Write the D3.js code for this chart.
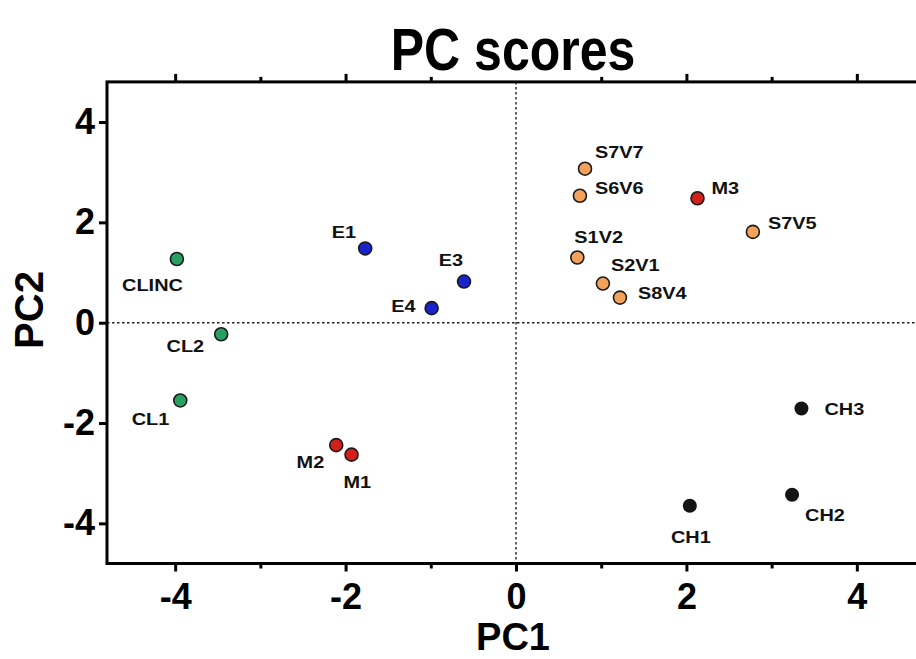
<!DOCTYPE html>
<html>
<head>
<meta charset="utf-8">
<script src="https://cdn.jsdelivr.net/npm/d3@7"></script>
<style>
  html, body { margin: 0; padding: 0; background: #fff; }
  svg { display: block; font-family: "Liberation Sans", Arial, sans-serif; }
</style>
</head>
<body>
<svg id="chart" width="916" height="659"></svg>
<script>
// PCA sample scores
const sampleNames = ["CLINC", "CL2", "CL1", "E1", "E3", "E4", "M2", "M1", "M3",
  "S7V7", "S6V6", "S7V5", "S1V2", "S2V1", "S8V4", "CH3", "CH2", "CH1"];
const groups = ["CL", "CL", "CL", "E", "E", "E", "M", "M", "M",
  "S", "S", "S", "S", "S", "S", "CH", "CH", "CH"];
const pc1 = [-3.98, -3.46, -3.94, -1.77, -0.61, -0.99, -2.11, -1.93, 2.13,
  0.81, 0.75, 2.78, 0.72, 1.02, 1.22, 3.35, 3.24, 2.04];
const pc2 = [1.27, -0.23, -1.55, 1.48, 0.82, 0.29, -2.44, -2.63, 2.48,
  3.07, 2.53, 1.81, 1.30, 0.78, 0.50, -1.71, -3.43, -3.65];
const tickValues = [-4, -3, -2, -1, 0, 1, 2, 3, 4];
const yTickValues = [-4, -2, 0, 2, 4];

const groupColors = {
  CL: "#28a062", E: "#1a22cc", M: "#d2201a", S: "#f2a25a", CH: "#141414"
};

// label placement around each marker: anchor, dx, dy (px)
const labelPlacement = {
  CLINC: ["end", 6, 26], CL2: ["end", -17, 12], CL1: ["end", -11, 19],
  E1: ["end", -9, -16], E3: ["end", -1, -22], E4: ["end", -16, -2],
  M2: ["end", -12, 17], M1: ["start", -8, 27], M3: ["start", 14, -10],
  S7V7: ["start", 10, -17], S6V6: ["start", 15, -8], S7V5: ["start", 15, -9],
  S1V2: ["start", -3, -20], S2V1: ["start", 8, -19], S8V4: ["start", 18, -5],
  CH3: ["start", 23, 1], CH2: ["start", 13, 20], CH1: ["middle", 1, 31]
};

const svg = d3.select("#chart");
const x = d3.scaleLinear().domain([-4.8, 4.8]).range([107, 925]);
const y = d3.scaleLinear().domain([-4.8, 4.8]).range([563.5, 81.9]);
const [x0, x1] = x.range();
const [y1, y0] = y.range();

// title
svg.append("text")
  .attr("transform", "translate(513,70) scale(1,1.2)")
  .attr("text-anchor", "middle")
  .attr("font-size", 50).attr("font-weight", "bold")
  .text("PC scores");

// zero reference lines
const ref = svg.append("g").attr("stroke", "#222").attr("stroke-width", 1.4)
  .attr("stroke-dasharray", "2.5,2.5").attr("fill", "none");
ref.append("line").attr("x1", x(0)).attr("x2", x(0)).attr("y1", y0).attr("y2", y1);
ref.append("line").attr("x1", x0).attr("x2", x1).attr("y1", y(0)).attr("y2", y(0));

// axes
function styleAxis(g, withText) {
  g.select(".domain").remove();
  g.selectAll(".tick line").attr("stroke", "#000").attr("stroke-width", 3);
  if (withText) {
    g.selectAll(".tick text").attr("font-size", 36).attr("font-weight", "bold")
      .attr("fill", "#000").attr("font-family", "'Liberation Sans', Arial, sans-serif");
  } else {
    g.selectAll(".tick text").remove();
  }
}
const majorX = tickValues.filter(v => v % 2 === 0);
const minorX = tickValues.filter(v => v % 2 !== 0);

svg.append("g").attr("transform", `translate(0,${y1})`)
  .call(d3.axisBottom(x).tickValues(majorX).tickSize(8).tickPadding(12).tickFormat(d3.format("d")))
  .call(g => styleAxis(g, true));
svg.append("g").attr("transform", `translate(0,${y1})`)
  .call(d3.axisBottom(x).tickValues(minorX).tickSize(5))
  .call(g => styleAxis(g, false));
svg.append("g").attr("transform", `translate(0,${y0})`)
  .call(d3.axisTop(x).tickValues(majorX.filter(v => v !== 0)).tickSize(8))
  .call(g => styleAxis(g, false));
svg.append("g").attr("transform", `translate(0,${y0})`)
  .call(d3.axisTop(x).tickValues(minorX).tickSize(5))
  .call(g => styleAxis(g, false));
svg.append("g").attr("transform", `translate(${x0},0)`)
  .call(d3.axisLeft(y).tickValues(yTickValues).tickSize(8).tickPadding(4).tickFormat(d3.format("d")))
  .call(g => styleAxis(g, true));
svg.selectAll(".tick text").filter(function () { return this.textContent.startsWith("−"); })
  .text(function () { return this.textContent.replace("−", "-"); });

// frame
svg.append("rect")
  .attr("x", x0).attr("y", y0).attr("width", x1 - x0).attr("height", y1 - y0)
  .attr("fill", "none").attr("stroke", "#000").attr("stroke-width", 3);

// axis titles
svg.append("text").attr("x", 513).attr("y", 650)
  .attr("text-anchor", "middle").attr("font-size", 38).attr("font-weight", "bold")
  .text("PC1");
svg.append("text").attr("transform", "translate(43,310) rotate(-90)")
  .attr("text-anchor", "middle").attr("font-size", 40).attr("font-weight", "bold")
  .text("PC2");

// points
const points = sampleNames.map((name, i) => ({ name, group: groups[i], pc1: pc1[i], pc2: pc2[i] }));

svg.append("g").selectAll("circle").data(points).join("circle")
  .attr("cx", d => x(d.pc1)).attr("cy", d => y(d.pc2))
  .attr("r", d => d.group === "CH" ? 7 : 6.5)
  .attr("fill", d => groupColors[d.group])
  .attr("stroke", d => d.group === "CH" ? "none" : "#1a1a1a")
  .attr("stroke-width", 1.6);

svg.append("g").selectAll("text").data(points).join("text")
  .attr("transform", d => {
    const p = labelPlacement[d.name];
    return `translate(${x(d.pc1) + p[1]},${y(d.pc2) + p[2]}) scale(1.17,1)`;
  })
  .attr("text-anchor", d => labelPlacement[d.name][0])
  .attr("dominant-baseline", "central")
  .attr("font-size", 17).attr("font-weight", "bold").attr("fill", "#111")
  .text(d => d.name);
</script>
</body>
</html>
